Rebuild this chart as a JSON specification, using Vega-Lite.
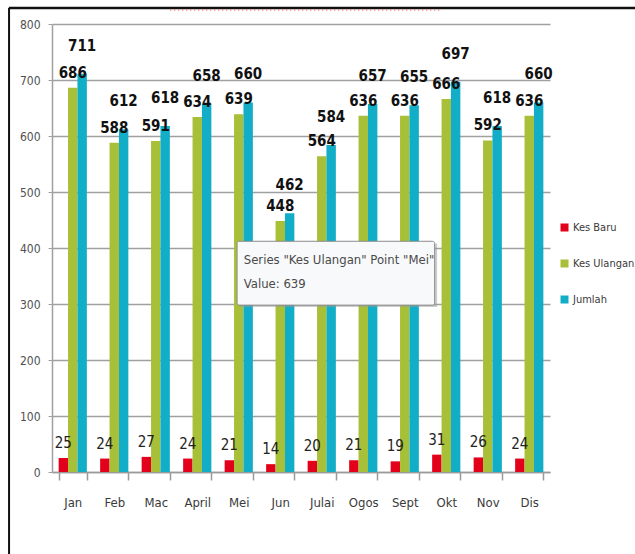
{
  "$schema": "https://vega.github.io/schema/vega-lite/v6.json",
  "width": 498,
  "height": 448,
  "autosize": {"type": "none"},
  "padding": {"left": 52, "top": 24, "right": 85, "bottom": 82},
  "background": "white",
  "config": {
    "font": "DejaVu Sans Condensed, sans-serif",
    "view": {"stroke": null}
  },
  "data": {
    "values": [
      {"bulan": "Jan", "siri": "Kes Baru", "nilai": 25},
      {"bulan": "Feb", "siri": "Kes Baru", "nilai": 24},
      {"bulan": "Mac", "siri": "Kes Baru", "nilai": 27},
      {"bulan": "April", "siri": "Kes Baru", "nilai": 24},
      {"bulan": "Mei", "siri": "Kes Baru", "nilai": 21},
      {"bulan": "Jun", "siri": "Kes Baru", "nilai": 14},
      {"bulan": "Julai", "siri": "Kes Baru", "nilai": 20},
      {"bulan": "Ogos", "siri": "Kes Baru", "nilai": 21},
      {"bulan": "Sept", "siri": "Kes Baru", "nilai": 19},
      {"bulan": "Okt", "siri": "Kes Baru", "nilai": 31},
      {"bulan": "Nov", "siri": "Kes Baru", "nilai": 26},
      {"bulan": "Dis", "siri": "Kes Baru", "nilai": 24},
      {"bulan": "Jan", "siri": "Kes Ulangan", "nilai": 686},
      {"bulan": "Feb", "siri": "Kes Ulangan", "nilai": 588},
      {"bulan": "Mac", "siri": "Kes Ulangan", "nilai": 591},
      {"bulan": "April", "siri": "Kes Ulangan", "nilai": 634},
      {"bulan": "Mei", "siri": "Kes Ulangan", "nilai": 639},
      {"bulan": "Jun", "siri": "Kes Ulangan", "nilai": 448},
      {"bulan": "Julai", "siri": "Kes Ulangan", "nilai": 564},
      {"bulan": "Ogos", "siri": "Kes Ulangan", "nilai": 636},
      {"bulan": "Sept", "siri": "Kes Ulangan", "nilai": 636},
      {"bulan": "Okt", "siri": "Kes Ulangan", "nilai": 666},
      {"bulan": "Nov", "siri": "Kes Ulangan", "nilai": 592},
      {"bulan": "Dis", "siri": "Kes Ulangan", "nilai": 636},
      {"bulan": "Jan", "siri": "Jumlah", "nilai": 711},
      {"bulan": "Feb", "siri": "Jumlah", "nilai": 612},
      {"bulan": "Mac", "siri": "Jumlah", "nilai": 618},
      {"bulan": "April", "siri": "Jumlah", "nilai": 658},
      {"bulan": "Mei", "siri": "Jumlah", "nilai": 660},
      {"bulan": "Jun", "siri": "Jumlah", "nilai": 462},
      {"bulan": "Julai", "siri": "Jumlah", "nilai": 584},
      {"bulan": "Ogos", "siri": "Jumlah", "nilai": 657},
      {"bulan": "Sept", "siri": "Jumlah", "nilai": 655},
      {"bulan": "Okt", "siri": "Jumlah", "nilai": 697},
      {"bulan": "Nov", "siri": "Jumlah", "nilai": 618},
      {"bulan": "Dis", "siri": "Jumlah", "nilai": 660}
    ]
  },
  "resolve": {"scale": {"x": "independent", "y": "independent"}, "axis": {"x": "independent", "y": "independent"}},
  "layer": [
    {
      "encoding": {
        "x": {
          "field": "bulan",
          "type": "nominal",
          "sort": ["Jan", "Feb", "Mac", "April", "Mei", "Jun", "Julai", "Ogos", "Sept", "Okt", "Nov", "Dis"],
          "scale": {"paddingInner": 0.32, "paddingOuter": 0.16},
          "title": null,
          "axis": {
            "labelAngle": 0,
            "tickBand": "extent",
            "tickSize": 8,
            "tickWidth": 1.5,
            "tickColor": "#9a9a9a",
            "domainColor": "#9a9a9a",
            "domainWidth": 1.5,
            "labelPadding": 16,
            "labelFontSize": 13,
            "labelColor": "#3a3a3a",
            "grid": false
          }
        },
        "xOffset": {
          "field": "siri",
          "type": "nominal",
          "sort": ["Kes Baru", "Kes Ulangan", "Jumlah"],
          "scale": {"paddingInner": 0, "paddingOuter": 0}
        },
        "y": {
          "field": "nilai",
          "type": "quantitative",
          "scale": {"domain": [0, 800], "nice": false},
          "title": null,
          "axis": {
            "values": [0, 100, 200, 300, 400, 500, 600, 700, 800],
            "labelOverlap": false,
            "gridColor": "#a0a0a0",
            "gridWidth": 1.5,
            "tickColor": "#a0a0a0",
            "tickSize": 4,
            "domainColor": "#a0a0a0",
            "domainWidth": 1.5,
            "labelPadding": 8,
            "labelFontSize": 12,
            "labelColor": "#505050"
          }
        }
      },
      "layer": [
        {
          "mark": {"type": "bar"},
          "encoding": {
            "color": {
              "field": "siri",
              "type": "nominal",
              "sort": ["Kes Baru", "Kes Ulangan", "Jumlah"],
              "scale": {"domain": ["Kes Baru", "Kes Ulangan", "Jumlah"], "range": ["#e3001b", "#a8bf38", "#12aec8"]},
              "legend": {
                "title": null,
                "orient": "none",
                "legendX": 507,
                "legendY": 198,
                "symbolType": "square",
                "symbolSize": 64,
                "symbolStrokeWidth": 0,
                "labelFontSize": 11,
                "labelColor": "#3a3a3a",
                "rowPadding": 24,
                "labelOffset": 3
              }
            }
          }
        },
        {
          "transform": [{"filter": "datum.siri === 'Kes Baru'"}],
          "mark": {"type": "text", "baseline": "bottom", "dy": -7, "fontSize": 15, "color": "#222"},
          "encoding": {"text": {"field": "nilai", "type": "quantitative"}}
        },
        {
          "transform": [{"filter": "datum.siri === 'Kes Ulangan'"}],
          "mark": {"type": "text", "baseline": "bottom", "dy": -7, "fontSize": 15, "fontWeight": "bold", "color": "#111"},
          "encoding": {"text": {"field": "nilai", "type": "quantitative"}}
        },
        {
          "transform": [{"filter": "datum.siri === 'Jumlah'"}],
          "mark": {"type": "text", "baseline": "bottom", "dy": -20, "fontSize": 15, "fontWeight": "bold", "color": "#111"},
          "encoding": {"text": {"field": "nilai", "type": "quantitative"}}
        }
      ]
    },
    {
      "data": {"values": [{"nota": "tooltip"}]},
      "encoding": {
        "x": {"type": "quantitative", "scale": {"domain": [0, 12], "nice": false, "zero": false}, "axis": null},
        "y": {"type": "quantitative", "scale": {"domain": [0, 800], "nice": false, "zero": false}, "axis": null}
      },
      "layer": [
        {
          "mark": {"type": "rect", "fill": "#9a9a9a", "opacity": 0.5},
          "encoding": {
            "x": {"datum": 4.52, "type": "quantitative"},
            "x2": {"datum": 9.28},
            "y": {"datum": 294.5, "type": "quantitative"},
            "y2": {"datum": 408}
          }
        },
        {
          "mark": {"type": "rect", "fill": "#f8f9fb", "stroke": "#8c8c8c", "strokeWidth": 1, "cornerRadius": 2},
          "encoding": {
            "x": {"datum": 4.46, "type": "quantitative"},
            "x2": {"datum": 9.22},
            "y": {"datum": 298, "type": "quantitative"},
            "y2": {"datum": 412}
          }
        },
        {
          "mark": {"type": "text", "align": "left", "baseline": "middle", "fontSize": 13, "color": "#4a4a4a"},
          "encoding": {
            "x": {"datum": 4.62, "type": "quantitative"},
            "y": {"datum": 378, "type": "quantitative"},
            "text": {"value": "Series \"Kes Ulangan\" Point \"Mei\""}
          }
        },
        {
          "mark": {"type": "text", "align": "left", "baseline": "middle", "fontSize": 13, "color": "#4a4a4a"},
          "encoding": {
            "x": {"datum": 4.62, "type": "quantitative"},
            "y": {"datum": 336, "type": "quantitative"},
            "text": {"value": "Value: 639"}
          }
        },
        {
          "mark": {"type": "rule", "color": "#111", "strokeWidth": 2.5},
          "encoding": {
            "x": {"datum": -1.04, "type": "quantitative"},
            "x2": {"datum": 14.2},
            "y": {"datum": 828.5, "type": "quantitative"}
          }
        },
        {
          "mark": {"type": "rule", "color": "#111", "strokeWidth": 2},
          "encoding": {
            "x": {"datum": -1.035, "type": "quantitative"},
            "y": {"datum": 828.5, "type": "quantitative"},
            "y2": {"datum": -150}
          }
        },
        {
          "mark": {"type": "rule", "color": "#f08a8a", "strokeWidth": 2, "strokeDash": [1, 3]},
          "encoding": {
            "x": {"datum": 2.85, "type": "quantitative"},
            "x2": {"datum": 9.35},
            "y": {"datum": 825, "type": "quantitative"}
          }
        }
      ]
    }
  ]
}
